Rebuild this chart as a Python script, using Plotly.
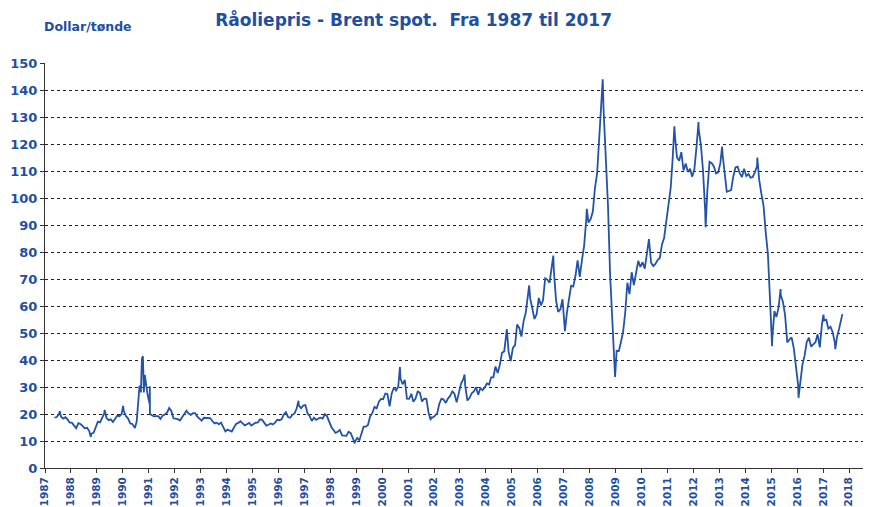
import plotly.graph_objects as go
import pandas as pd

# Monthly average Brent spot prices (USD/barrel), May 1987 - Sep 2017
month_start = "1987-05-01"
monthly_prices = [
    # 1987 May-Dec
    18.6, 18.9, 19.9, 19.0, 18.3, 18.8, 18.0, 16.8,
    # 1988
    16.8, 15.7, 14.7, 16.6, 16.3, 15.5, 14.7, 14.9, 13.7, 12.7, 13.0, 15.3,
    # 1989
    17.2, 16.9, 18.7, 20.3, 18.6, 17.7, 18.0, 17.0, 18.1, 19.4, 19.2, 20.0,
    # 1990
    21.1, 19.2, 18.4, 16.5, 16.3, 15.1, 17.2, 27.2, 35.9, 36.0, 32.3, 27.3,
    # 1991
    23.6, 19.5, 19.1, 19.2, 19.2, 18.2, 19.4, 19.8, 20.5, 22.2, 21.1, 18.4,
    # 1992
    18.2, 18.1, 17.6, 18.9, 19.9, 21.2, 20.2, 19.7, 20.3, 20.3, 19.0, 18.2,
    # 1993
    17.5, 18.6, 18.6, 18.6, 18.5, 17.4, 16.5, 16.8, 16.2, 16.8, 15.2, 13.6,
    # 1994
    14.2, 13.8, 13.5, 15.0, 16.3, 16.7, 17.3, 16.5, 15.8, 16.2, 16.7, 15.7,
    # 1995
    16.4, 16.8, 16.8, 18.0, 17.9, 16.6, 15.7, 16.0, 16.5, 16.1, 16.8, 17.9,
    # 1996
    17.7, 18.0, 19.7, 20.7, 18.9, 18.6, 19.7, 20.2, 22.1, 23.2, 22.1, 23.1,
    # 1997
    23.3, 20.2, 19.3, 17.4, 18.6, 17.8, 18.3, 18.6, 18.3, 19.9, 19.2, 17.3,
    # 1998
    15.2, 14.1, 13.0, 13.4, 14.1, 12.1, 12.1, 11.9, 13.4, 12.9, 11.0, 9.8,
    # 1999
    11.1, 10.3, 12.5, 15.3, 15.3, 15.9, 19.1, 20.3, 22.6, 22.1, 24.5, 25.6,
    # 2000
    25.5, 27.6, 27.4, 22.8, 27.7, 29.8, 28.7, 30.2, 33.1, 31.0, 32.6, 25.7,
    # 2001
    25.6, 27.5, 24.5, 25.7, 28.3, 27.9, 24.6, 25.7, 25.6, 20.5, 18.8, 18.7,
    # 2002
    19.4, 20.3, 23.7, 25.7, 25.4, 24.1, 25.7, 26.7, 28.4, 27.5, 24.3, 28.3,
    # 2003
    31.2, 32.8, 30.6, 25.0, 25.9, 27.7, 28.4, 29.9, 27.1, 29.6, 28.8, 29.8,
    # 2004
    31.3, 30.9, 33.6, 33.6, 37.6, 35.2, 38.2, 42.7, 43.2, 49.8, 43.1, 39.6,
    # 2005
    44.5, 45.5, 53.1, 51.9, 48.7, 54.4, 57.5, 64.0, 62.9, 58.5, 55.2, 56.9,
    # 2006
    63.0, 60.2, 62.1, 70.3, 69.8, 68.6, 73.7, 73.2, 62.0, 57.8, 58.8, 62.5,
    # 2007
    53.7, 57.6, 62.1, 67.5, 67.2, 71.1, 76.9, 70.8, 77.2, 82.3, 92.4, 90.9,
    # 2008
    92.2, 95.0, 103.6, 109.1, 122.8, 132.3, 132.7, 113.2, 97.2, 71.6, 52.5, 40.0,
    # 2009
    43.4, 43.3, 46.5, 50.2, 57.3, 68.6, 64.4, 72.5, 67.7, 72.8, 76.7, 74.5,
    # 2010
    76.2, 73.8, 78.8, 84.8, 76.0, 74.8, 75.6, 77.0, 77.8, 82.7, 85.3, 91.5,
    # 2011
    96.5, 103.7, 114.6, 123.3, 115.0, 113.8, 117.0, 110.2, 112.8, 109.6, 110.8, 107.9,
    # 2012
    110.7, 119.3, 125.5, 119.8, 110.3, 95.2, 102.6, 113.4, 112.9, 111.7, 109.1, 109.5,
    # 2013
    113.0, 116.1, 108.5, 102.3, 102.6, 102.9, 107.9, 111.3, 111.6, 109.1, 107.8, 110.8,
    # 2014
    108.1, 108.9, 107.5, 107.8, 109.5, 111.8, 106.8, 101.6, 97.1, 87.4, 79.4, 62.3,
    # 2015
    47.8, 58.1, 55.9, 59.5, 64.1, 61.5, 56.6, 46.5, 47.6, 48.4, 44.3, 38.0,
    # 2016
    30.7, 32.2, 38.2, 41.6, 46.7, 48.3, 45.0, 45.8, 46.6, 49.5, 44.7, 53.3,
    # 2017 Jan-Sep
    54.6, 54.9, 51.6, 52.3, 50.3, 46.4, 48.5, 51.7, 56.2,
]

# Daily extremes
extreme_dates = [
    "1987-07-28", "1988-10-06", "1989-04-20", "1990-01-05", "1990-06-20",
    "1990-08-24", "1990-09-12", "1990-09-27", "1990-10-11", "1990-10-24",
    "1990-11-06", "1991-01-16", "1991-01-18", "1996-10-09", "1998-12-10",
    "2000-09-07", "2001-11-15", "2003-03-07", "2004-10-22", "2005-09-01",
    "2006-08-07", "2007-01-18", "2007-11-22", "2008-07-03", "2008-12-24",
    "2011-04-08", "2012-03-13", "2012-06-21", "2013-02-08", "2014-06-19",
    "2015-01-13", "2015-05-13", "2016-01-20", "2017-01-06", "2017-06-21",
    "2017-09-29",
]
extreme_prices = [
    21.0, 11.5, 21.5, 23.0, 14.8,
    30.5, 28.0, 40.6, 41.4, 28.0,
    34.5, 30.3, 20.0, 24.9, 9.1,
    37.4, 17.7, 34.6, 51.4, 67.6,
    78.7, 50.7, 96.0, 144.0, 33.7,
    126.6, 128.1, 89.2, 119.0, 115.0,
    45.1, 66.3, 26.0, 56.8, 44.0,
    57.0,
]

year_ticks = list(range(1987, 2019))
y_ticks = list(range(0, 151, 10))

month_dates = pd.date_range(month_start, periods=len(monthly_prices), freq="MS") + pd.Timedelta(days=14)
series = pd.concat([
    pd.Series(monthly_prices, index=month_dates),
    pd.Series(extreme_prices, index=pd.to_datetime(extreme_dates)),
]).sort_index()

blue_line = "#2353A8"
blue_text = "#1F4F9F"
font_family = "DejaVu Sans, Verdana, sans-serif"

fig = go.Figure()
fig.add_trace(go.Scatter(
    x=series.index, y=series.values, mode="lines",
    line=dict(color=blue_line, width=1.8), hoverinfo="skip", showlegend=False,
))

fig.update_layout(
    width=863, height=499,
    margin=dict(l=37, r=0, t=55, b=39),
    paper_bgcolor="white", plot_bgcolor="white",
    font=dict(family=font_family, color=blue_text),
    title=dict(
        text="<b>Råoliepris - Brent spot. \u00a0Fra 1987 til 2017</b>",
        x=0.470, xanchor="center", y=0.976, yanchor="middle",
        font=dict(size=17, color=blue_text, family=font_family),
    ),
    annotations=[dict(
        text="<b>Dollar/tønde</b>", xref="paper", yref="paper",
        x=-0.004, y=1.089, xanchor="left", yanchor="middle",
        showarrow=False, font=dict(size=12.5, color=blue_text, family=font_family),
    )],
)

fig.update_xaxes(
    type="date",
    range=["1987-01-01", "2018-11-06"],
    tickvals=[f"{y}-01-01" for y in year_ticks],
    ticktext=[f"<b>{y}</b>" for y in year_ticks],
    tickangle=-90,
    tickfont=dict(size=10.5, color=blue_text, family=font_family),
    ticks="outside", ticklen=4, tickcolor="#333333",
    showline=True, linecolor="#333333", linewidth=1,
    showgrid=False, zeroline=False, automargin=False,
)
fig.update_yaxes(
    range=[0, 150],
    tickvals=y_ticks,
    ticktext=[f"<b>{v}</b>" for v in y_ticks],
    tickfont=dict(size=13, color=blue_text, family=font_family),
    ticks="outside", ticklen=4, tickcolor="#333333",
    showline=True, linecolor="#333333", linewidth=1,
    showgrid=True, gridcolor="#222222", gridwidth=1, griddash="dot",
    zeroline=False, automargin=False,
)

fig.write_html("out.html")
